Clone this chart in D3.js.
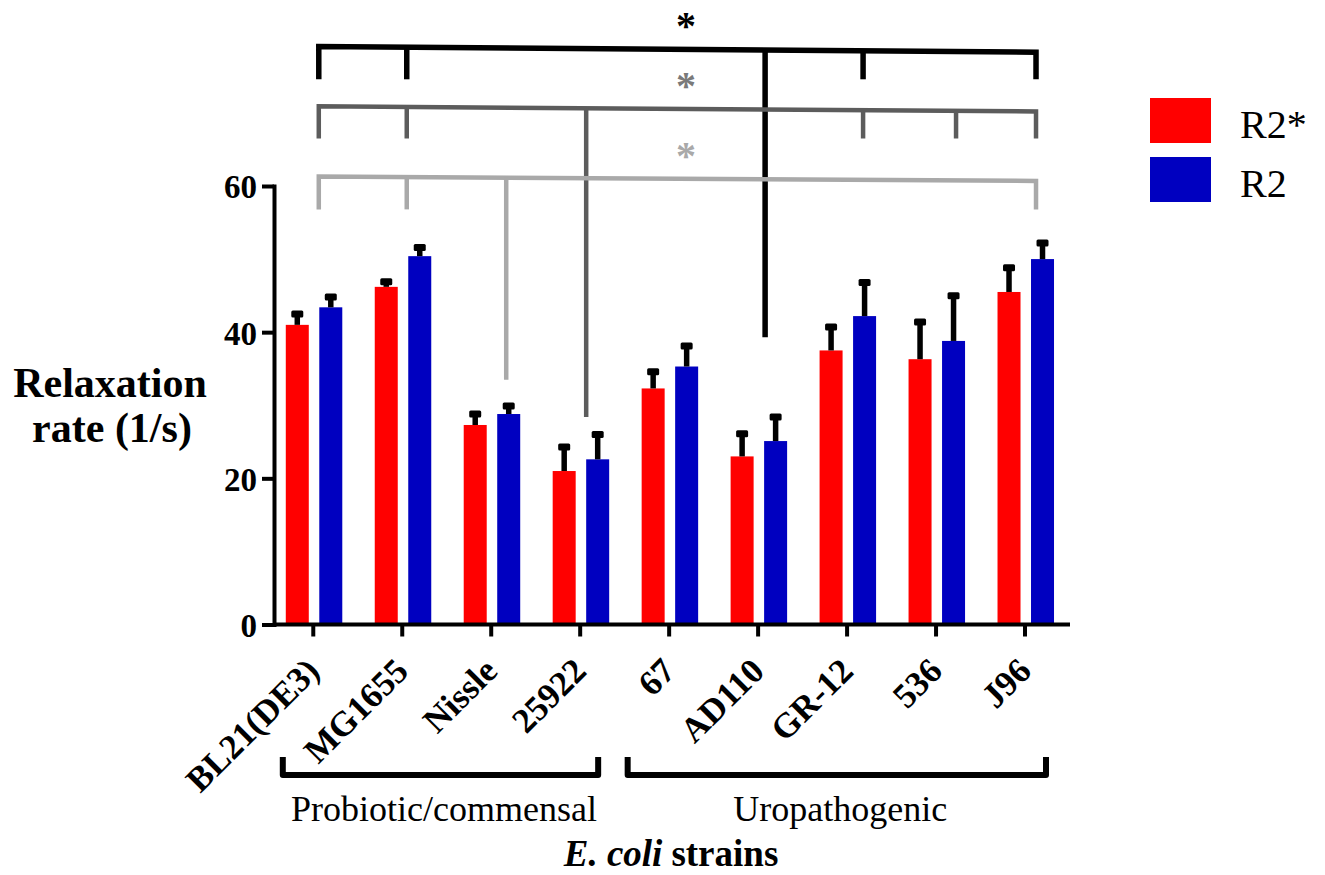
<!DOCTYPE html>
<html>
<head>
<meta charset="utf-8">
<script src="https://cdn.jsdelivr.net/npm/d3@7"></script>
<style>
  html, body { margin: 0; padding: 0; background: #ffffff; }
  svg { display: block; }
</style>
</head>
<body>
<svg id="chart" width="1325" height="875"></svg>
<script>
// ---- data ----
const strains = ["BL21(DE3)", "MG1655", "Nissle", "25922", "67", "AD110", "GR-12", "536", "J96"];
const seriesNames = ["R2*", "R2"];
const seriesColors = ["#ff0000", "#0000c0"];
const r2StarMean = [41.0, 46.2, 27.3, 21.0, 32.3, 23.0, 37.5, 36.3, 45.5];
const r2StarErr  = [1.5, 0.7, 1.5, 3.3, 2.3, 3.1, 3.2, 5.1, 3.3];
const r2Mean     = [43.4, 50.4, 28.8, 22.6, 35.3, 25.1, 42.2, 38.8, 50.0];
const r2Err      = [1.4, 1.2, 1.1, 3.4, 2.8, 3.3, 4.6, 6.2, 2.2];
const yTicks = [0, 20, 40, 60];
const groups = [
  { label: "Probiotic/commensal", from: "BL21(DE3)", to: "25922" },
  { label: "Uropathogenic", from: "67", to: "J96" }
];
// significance brackets: level of the bar (left/right end), leg ends and long stem end, in axis units
const brackets = [
  { shade: "#000000", star: "#000000", level: [79.1, 78.3], legTo: 74.6, stemTo: 39.3,
    legs: ["BL21(DE3)", "MG1655", "GR-12", "J96"], stem: "AD110" },
  { shade: "#5c5c5c", star: "#7a7a7a", level: [70.9, 70.2], legTo: 66.5, stemTo: 28.4,
    legs: ["BL21(DE3)", "MG1655", "GR-12", "536", "J96"], stem: "25922" },
  { shade: "#a9a9a9", star: "#a9a9a9", level: [61.3, 60.7], legTo: 56.8, stemTo: 33.5,
    legs: ["BL21(DE3)", "MG1655", "J96"], stem: "Nissle" }
];

// ---- layout ----
const serif = '"Liberation Serif", "Times New Roman", "DejaVu Serif", serif';
const yAxisX = 274, xAxisEnd = 1070;
const legShift = { "BL21(DE3)": 5.5, "MG1655": 4.5, "Nissle": 15, "25922": 6, "67": 0,
                   "AD110": 7, "GR-12": 16, "536": 20, "J96": 11 };

const svg = d3.select("#chart");

const x = d3.scaleBand().domain(strains).range([268.8, 1069.5]).padding(0);
const xs = d3.scaleBand().domain(seriesNames).range([-27.5, 29]).paddingInner(0.3134).paddingOuter(0);
const y = d3.scaleLinear().domain([0, 60]).range([624.5, 186]);
const cx = s => x(s) + x.bandwidth() / 2;

const rows = strains.map((s, i) => ({
  strain: s,
  values: [
    { name: seriesNames[0], mean: r2StarMean[i], err: r2StarErr[i], color: seriesColors[0] },
    { name: seriesNames[1], mean: r2Mean[i], err: r2Err[i], color: seriesColors[1] }
  ]
}));

// ---- bars with error bars ----
const g = svg.append("g").selectAll("g").data(rows).join("g")
  .attr("transform", d => `translate(${cx(d.strain)},0)`);

g.selectAll("rect.bar").data(d => d.values).join("rect")
  .attr("class", "bar")
  .attr("x", d => xs(d.name))
  .attr("width", xs.bandwidth())
  .attr("y", d => y(d.mean))
  .attr("height", d => y(0) - y(d.mean))
  .attr("fill", d => d.color);

g.selectAll("line.err").data(d => d.values).join("line")
  .attr("class", "err")
  .attr("x1", d => xs(d.name) + xs.bandwidth() / 2)
  .attr("x2", d => xs(d.name) + xs.bandwidth() / 2)
  .attr("y1", d => y(d.mean))
  .attr("y2", d => y(d.mean + d.err))
  .attr("stroke", "#000").attr("stroke-width", 5.5);

g.selectAll("rect.cap").data(d => d.values).join("rect")
  .attr("class", "cap")
  .attr("x", d => xs(d.name) + xs.bandwidth() / 2 - 6)
  .attr("width", 12)
  .attr("y", d => y(d.mean + d.err) - 3.5)
  .attr("height", 7)
  .attr("rx", 1.5)
  .attr("fill", "#000");

// ---- axes ----
const yAxis = svg.append("g")
  .attr("transform", `translate(${yAxisX},0)`)
  .call(d3.axisLeft(y).tickValues(yTicks).tickFormat(d3.format("d")).tickSize(12).tickSizeOuter(0).tickPadding(5));
yAxis.attr("font-family", null);
yAxis.select(".domain").attr("stroke", "#000").attr("stroke-width", 4).attr("stroke-linecap", "square");
yAxis.selectAll(".tick line").attr("stroke", "#000").attr("stroke-width", 4);
yAxis.selectAll(".tick text")
  .style("font-family", serif).style("font-size", "33px").style("font-weight", "bold")
  .attr("fill", "#000").attr("dy", "0.36em");

svg.append("line")
  .attr("x1", yAxisX).attr("x2", xAxisEnd)
  .attr("y1", y(0)).attr("y2", y(0))
  .attr("stroke", "#000").attr("stroke-width", 4);

const xAxis = svg.append("g")
  .attr("transform", `translate(0,${y(0)})`)
  .call(d3.axisBottom(x).tickSize(12).tickSizeOuter(0));
xAxis.select(".domain").remove();
xAxis.selectAll(".tick line").attr("stroke", "#000").attr("stroke-width", 4);
xAxis.selectAll(".tick text").remove();

// rotated strain names
svg.append("g").selectAll("text").data(strains).join("text")
  .attr("transform", d => `translate(${cx(d) + 8},673) rotate(-45)`)
  .attr("text-anchor", "end")
  .style("font-family", serif).style("font-size", "35px").style("font-weight", "bold")
  .text(d => d);

// ---- axis titles ----
const yTitle = svg.append("text")
  .attr("text-anchor", "middle")
  .style("font-family", serif).style("font-size", "42px").style("font-weight", "bold");
yTitle.append("tspan").attr("x", 110).attr("y", 397).text("Relaxation");
yTitle.append("tspan").attr("x", 112).attr("y", 442).text("rate (1/s)");

// x title: italic species name followed by plain word, laid out side by side
const xt1 = svg.append("text").attr("y", 866)
  .style("font-family", serif).style("font-size", "37px").style("font-weight", "bold").style("font-style", "italic")
  .text("E. coli");
const xt2 = svg.append("text").attr("y", 866)
  .style("font-family", serif).style("font-size", "37px").style("font-weight", "bold")
  .text("strains");
const w1 = xt1.node().getComputedTextLength();
const w2 = xt2.node().getComputedTextLength();
const gap = 9;
const startX = 671 - (w1 + gap + w2) / 2;
xt1.attr("x", startX);
xt2.attr("x", startX + w1 + gap);

// ---- group brackets under the axis ----
const groupEnds = [[14, -26.5], [3, -23.5]];
const gg = svg.append("g").selectAll("g").data(groups).join("g");
gg.append("path")
  .attr("d", (d, i) => {
    const x0 = x(d.from) + groupEnds[i][0];
    const x1 = x(d.to) + x.bandwidth() + groupEnds[i][1];
    return `M${x0},757 L${x0},775 L${x1},775 L${x1},757`;
  })
  .attr("fill", "none").attr("stroke", "#000").attr("stroke-width", 6)
  .attr("stroke-linejoin", "round");
gg.append("text")
  .attr("x", (d, i) => (x(d.from) + groupEnds[i][0] + x(d.to) + x.bandwidth() + groupEnds[i][1]) / 2 + 3.5)
  .attr("y", 821)
  .attr("text-anchor", "middle")
  .style("font-family", serif).style("font-size", "36px")
  .text(d => d.label);

// ---- significance brackets ----
const bg = svg.append("g");
brackets.forEach(b => {
  const xl = cx(b.legs[0]) + legShift[b.legs[0]];
  const last = b.legs[b.legs.length - 1];
  const xr = cx(last) + legShift[last];
  const lineY = xx => y(b.level[0]) + (y(b.level[1]) - y(b.level[0])) * (xx - xl) / (xr - xl);
  const sw = b.shade === "#000000" ? 5.5 : 4.5;
  bg.append("path")
    .attr("d", `M${xl},${y(b.legTo)} L${xl},${lineY(xl)} L${xr},${lineY(xr)} L${xr},${y(b.legTo)}`)
    .attr("fill", "none").attr("stroke", b.shade).attr("stroke-width", sw)
    .attr("stroke-linejoin", "miter");
  b.legs.slice(1, -1).forEach(s => {
    const xx = cx(s) + legShift[s];
    bg.append("line").attr("x1", xx).attr("x2", xx)
      .attr("y1", lineY(xx)).attr("y2", y(b.legTo))
      .attr("stroke", b.shade).attr("stroke-width", sw);
  });
  const xs0 = cx(b.stem) + legShift[b.stem];
  bg.append("line").attr("x1", xs0).attr("x2", xs0)
    .attr("y1", lineY(xs0)).attr("y2", y(b.stemTo))
    .attr("stroke", b.shade).attr("stroke-width", sw);
  const starX = 686;
  bg.append("text")
    .attr("x", starX).attr("y", lineY(starX) - 10)
    .attr("text-anchor", "middle")
    .style("font-family", serif).style("font-size", "40px").style("font-weight", "bold")
    .attr("fill", b.star)
    .text("*");
});

// ---- legend ----
const lg = svg.append("g").selectAll("g").data(seriesNames).join("g")
  .attr("transform", (d, i) => `translate(1150,${98 + i * 59})`);
lg.append("rect").attr("width", 61).attr("height", 45).attr("fill", (d, i) => seriesColors[i]);
lg.append("text").attr("x", 90).attr("y", 40)
  .style("font-family", serif).style("font-size", "40px")
  .text(d => d);
</script>
</body>
</html>
